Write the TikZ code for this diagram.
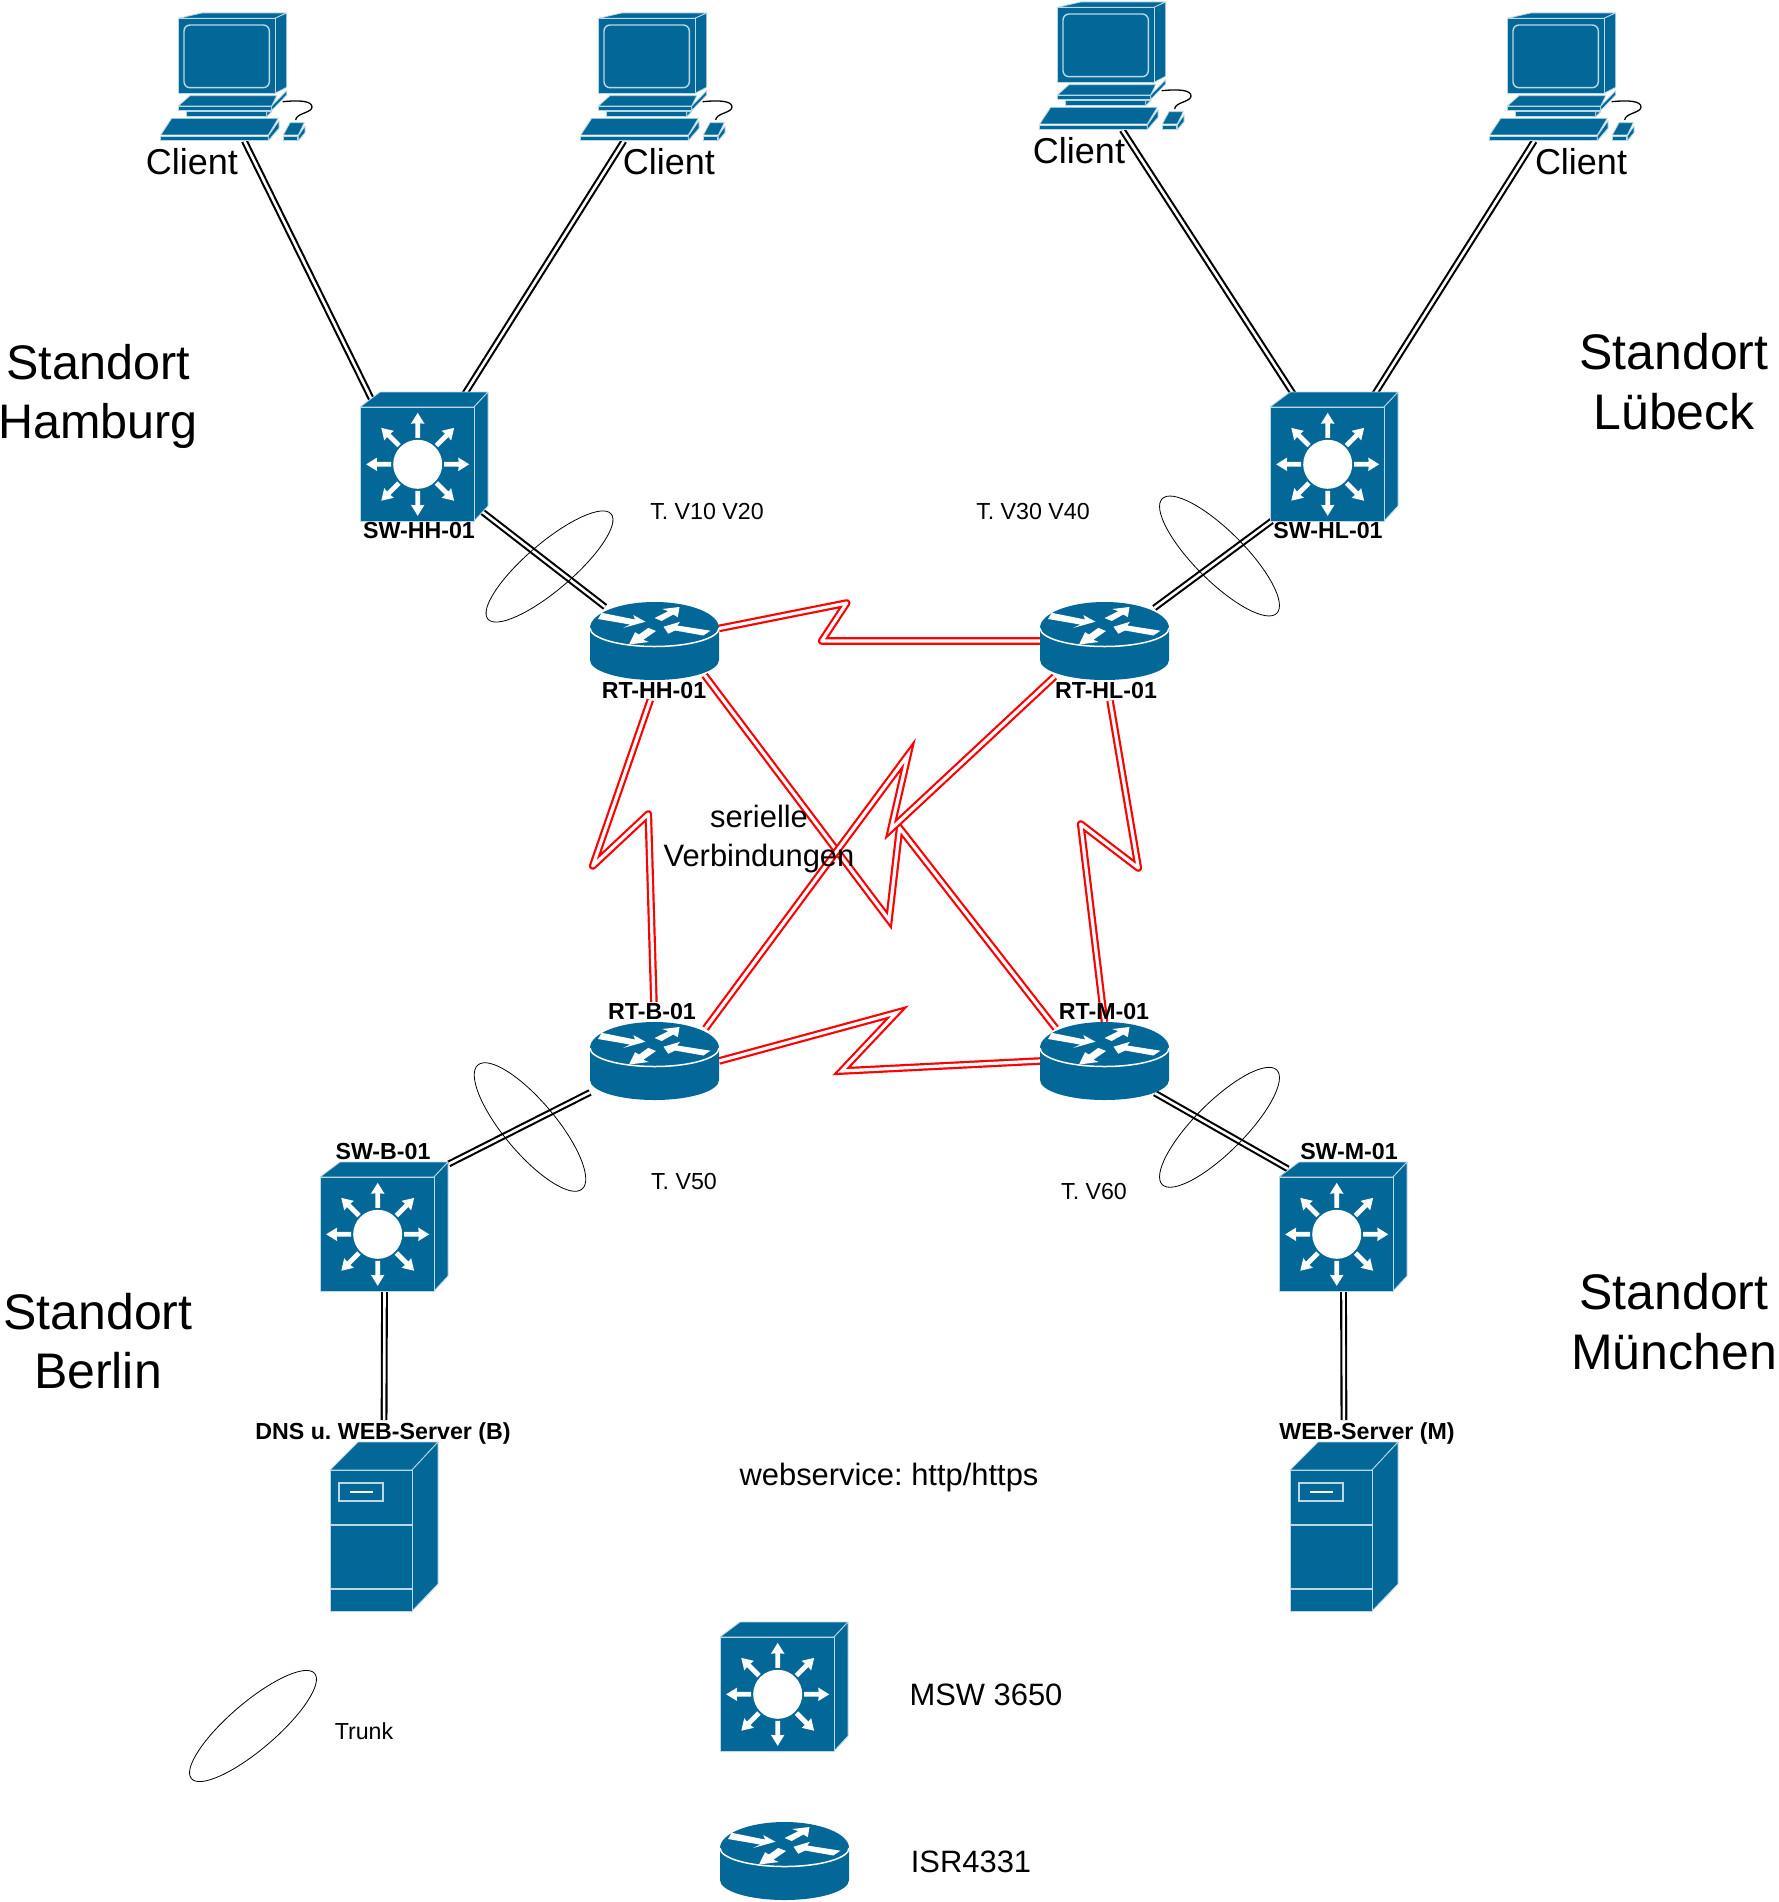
\documentclass[tikz,border=0pt]{standalone}
\usepackage{fontspec}
\setmainfont{Liberation Sans}
\usetikzlibrary{calc}
\AtBeginDocument{\frenchspacing}
\definecolor{cisco}{HTML}{036897}
\definecolor{edgeblue}{HTML}{BBD8E6}
\tikzset{
  iconbox/.style={rectangle,inner sep=0pt,outer sep=0pt},
  body/.style={fill=cisco,draw=edgeblue,line width=0.8pt,line join=round},
  wl/.style={draw=white,line width=1.5pt},
  blackline/.style={draw=black,line width=2.1pt,double=white,double distance=2.6pt},
  redline/.style={draw=red,line width=2.2pt,double=white,double distance=3.2pt,line join=miter,miter limit=30},
  redround/.style={redline,line join=round},
  trunk/.style={draw=black,line width=0.8pt},
  big/.style={font=\fontsize{50}{59.5}\selectfont,align=center,inner sep=0pt},
  bigb/.style={big,font=\fontsize{48.5}{59.5}\selectfont},
  mid/.style={font=\fontsize{30.9}{39}\selectfont,align=center,inner sep=0pt},
  clientlabel/.style={font=\fontsize{36}{42}\selectfont,anchor=base,inner sep=0pt},
  devlabel/.style={font=\fontsize{23.2}{26}\selectfont\bfseries,anchor=base,inner sep=0pt},
  note/.style={font=\fontsize{23.2}{26}\selectfont,anchor=base,inner sep=0pt},
  midb/.style={mid,anchor=base}
}
\newcommand{\swicon}[2]{%
  \begin{scope}[shift={(#1,#2)}]
    \path[body] (0,15) -- (20,0) -- (128,0) -- (114,15) -- cycle;
    \path[body] (114,15) -- (128,0) -- (128,114) -- (114,129) -- cycle;
    \path[body] (0,15) -- (114,15) -- (114,129) -- (0,129) -- cycle;
    \fill[white] (57.7,72.3) circle [radius=24.5pt];
    \foreach \a in {0,45,...,315}{
      \fill[white,shift={(57.7,72.3)},rotate=\a]
        (26.5,-2.4) -- (41,-2.4) -- (40.5,-6.8) -- (51.5,0) -- (40.5,6.8) -- (41,2.4) -- (26.5,2.4) -- cycle;
    }
  \end{scope}}
\newcommand{\rticon}[2]{%
  \begin{scope}[shift={(#1,#2)}]
    \path[body,draw=none] (0,26) -- (0,58) arc[start angle=180,end angle=360,x radius=64.5pt,y radius=20pt]
      -- (129,26) arc[start angle=0,end angle=180,x radius=64.5pt,y radius=26pt] -- cycle;
    \draw[wl] (0,26) arc[start angle=180,end angle=360,x radius=64.5pt,y radius=18.5pt];
    \fill[white] (11.7,10.8) -- (45,17.5) -- (43.3,13) -- (55.5,19.7) -- (33,26) -- (40,22.5) -- (8,17) -- cycle;
    \fill[white] (64.5,16) -- (78.3,9.2) -- (72.2,7) -- (89.5,5) -- (87.8,15.2) -- (83.3,12.5) -- (71.7,19) -- cycle;
    \fill[white] (58.3,25.8) -- (49,32.5) -- (45,30.2) -- (39,42.5) -- (58.8,40) -- (53.3,37.8) -- (66,29) -- cycle;
    \fill[white] (73.5,24.7) -- (90,19.8) -- (87.3,23.5) -- (120.5,28.7) -- (113.3,33.5) -- (85,28.5) -- (78.3,31.8) -- cycle;
  \end{scope}}
\newcommand{\srvicon}[2]{%
  \begin{scope}[shift={(#1,#2)}]
    \path[body] (0,28) -- (28,0) -- (108,0) -- (82,28) -- cycle;
    \path[body] (82,28) -- (108,0) -- (108,142) -- (82,169) -- cycle;
    \path[body] (0,28) -- (82,28) -- (82,169) -- (0,169) -- cycle;
    \draw[edgeblue,line width=1.5pt] (0,83) -- (82,83) (0,147) -- (82,147);
    \draw[edgeblue,line width=1.5pt] (9,41) rectangle (53,59);
    \draw[white,line width=1.5pt] (20,50) -- (43,50);
  \end{scope}}
\newcommand{\pcicon}[2]{%
  \begin{scope}[shift={(#1,#2)}]
    \draw[black,line width=1.3pt] (122.7,88.7) .. controls (140,87) and (152,88) .. (152,94)
      .. controls (152,100) and (136,100) .. (135.7,107);
    \path[body] (18.3,5.3) -- (41.7,0) -- (126.7,0) -- (115,5.3) -- cycle;
    \path[body] (115,5.3) -- (126.7,0) -- (126.7,74.3) -- (115,80.3) -- cycle;
    \path[body] (18.3,5.3) rectangle (115,80.3);
    \draw[edgeblue,line width=1.4pt,rounded corners=6pt] (24,12) rectangle (109.3,74.7);
    \path[body] (18.3,93) -- (30,82.7) -- (116.7,82.7) -- (111.7,93) -- cycle;
    \path[body] (18.3,93) rectangle (111.7,97.5);
    \path[body] (111.7,93) -- (126.7,77.7) -- (126.7,82) -- (111.7,97.5) -- cycle;
    \path[body] (26.7,98.7) rectangle (106.7,103.7);
    \path[body] (106.7,98.7) -- (111.7,98.7) -- (106.7,103.7) -- cycle;
    \path[body] (11.7,105.3) -- (118.3,105.3) -- (108.3,122) -- (0.7,122) -- cycle;
    \path[body] (0,123) rectangle (108.3,127.7);
    \path[body] (108.3,123) -- (119,107.7) -- (119,115.3) -- (108.3,127.7) -- cycle;
    \path[body] (130,109.7) -- (144.3,109.7) -- (138.3,122) -- (123.3,122) -- cycle;
    \path[body] (123.3,123) rectangle (137.7,127.7);
    \path[body] (138.3,123) -- (145,113) -- (145,119.7) -- (138.3,127.7) -- cycle;
  \end{scope}}
\begin{document}
\begin{tikzpicture}[x=1pt,y=-1pt]
\useasboundingbox[fill=white] (0,0) rectangle (1778,1902);

% device anchors
\tikzset{pcbox/.style={iconbox,minimum width=153pt,minimum height=128pt},
  swbox/.style={iconbox,minimum width=128.5pt,minimum height=129pt},
  rtbox/.style={iconbox,minimum width=129pt,minimum height=78pt},
  srvbox/.style={iconbox,minimum width=108pt,minimum height=169pt}}
\node[pcbox] (pc1) at (236.5,77) {};
\node[pcbox] (pc2) at (656.5,77) {};
\node[pcbox] (pc3) at (1115.5,66) {};
\node[pcbox] (pc4) at (1565.5,77) {};
\node[swbox] (sw1) at (424,456.5) {};
\node[swbox] (sw2) at (1334,456.5) {};
\node[swbox] (sw3) at (384.5,1226) {};
\node[swbox] (sw4) at (1343.5,1226) {};
\node[rtbox] (rt1) at (654.5,641) {};
\node[rtbox] (rt2) at (1104.5,641) {};
\node[rtbox] (rt3) at (654.5,1061) {};
\node[rtbox] (rt4) at (1104.5,1061) {};
\node[srvbox] (srv1) at (384,1526.5) {};
\node[srvbox] (srv2) at (1344,1526.5) {};

% Ethernet links
\draw[blackline,shorten >=-8pt] (pc1.-83.7) -- (sw1.131.5);
\draw[blackline,shorten >=-4pt] (pc2.-117.3) -- (sw1.57.6);
\draw[blackline,shorten >=-4pt] (pc3.-84.2) -- (sw2.123);
\draw[blackline,shorten >=-4pt] (pc4.-116.9) -- (sw2.57.6);
\draw[blackline,shorten <=-8pt,shorten >=-8pt] (sw1.-43.6) -- (rt1.145.9);
\draw[blackline,shorten >=-10pt] (sw2.-134.8) -- (rt2.34);
\draw[blackline] (rt3.-154.3) -- (sw3.44.8);
\draw[blackline,shorten <=-14pt,shorten >=-10pt] (rt4.-32.4) -- (sw4.136);
\draw[blackline,shorten >=22pt] (sw3.south) -- (srv1.north);
\draw[blackline,shorten >=22pt] (sw4.south) -- (srv2.north);

% serial links
\draw[redround] (rt1.11.4) -- (846.7,603) -- (821.7,641) -- (rt2.west);
\draw[redround,shorten <=21pt,shorten >=20pt] (rt1.-86) -- (592.7,866) -- (648.3,814) -- (rt3.north);
\draw[redround,shorten <=21pt] (rt2.-87.8) -- (1138.3,868) -- (1080.7,824) -- (rt4.north);
\draw[redline,shorten <=-6pt,shorten >=-8pt] (rt1.-36.1) -- (889,920) -- (899.6,828) -- (rt4.144.6);
\draw[redline,shorten <=-5pt,shorten >=-8pt] (rt2.-144.2) -- (891,829) -- (908,755) -- (rt3.35.4);
\draw[redline] (rt3.east) -- (896.7,1012.7) -- (841.6,1071) -- (rt4.west);

% trunk ellipses
\draw[trunk,rotate around={40.5:(549.5,566.5)}] (549.5,566.5) ellipse [x radius=81pt,y radius=23.5pt];
\draw[trunk,rotate around={-45:(1219.5,556)}] (1219.5,556) ellipse [x radius=81pt,y radius=25pt];
\draw[trunk,rotate around={-50:(530,1127)}] (530,1127) ellipse [x radius=81pt,y radius=26pt];
\draw[trunk,rotate around={45:(1219.5,1127.3)}] (1219.5,1127.3) ellipse [x radius=81pt,y radius=25pt];
\draw[trunk,rotate around={40.5:(253,1726)}] (253,1726) ellipse [x radius=81pt,y radius=23.5pt];

% icons
\pcicon{160}{13}
\pcicon{580}{13}
\pcicon{1039}{2}
\pcicon{1489}{13}
\swicon{360}{392}
\swicon{1270}{392}
\swicon{320}{1162}
\swicon{1279}{1162}
\swicon{720}{1622}
\rticon{590}{602}
\rticon{1040}{602}
\rticon{590}{1022}
\rticon{1040}{1022}
\rticon{720}{1822}
\srvicon{330}{1442}
\srvicon{1290}{1442}

% labels
\node[clientlabel] (c1) at (192,175) {Client};
\node[clientlabel] (c2) at (669,175) {Client};
\node[clientlabel] (c3) at (1079,164) {Client};
\node[clientlabel] (c4) at (1581,175) {Client};
\node[bigb] (hh) at (98,396.5) {Standort\\Hamburg};
\node[big] (hl) at (1674,381.5) {Standort\\Lübeck};
\node[big] (be) at (98,1341) {Standort\\Berlin};
\node[big] (mu) at (1674,1321.5) {Standort\\München};
\node[devlabel] (l1) at (419,538) {SW-HH-01};
\node[devlabel] (l2) at (1328,538) {SW-HL-01};
\node[devlabel] (l3) at (654,698) {RT-HH-01};
\node[devlabel] (l4) at (1106,698) {RT-HL-01};
\node[devlabel] (l5) at (652,1019) {RT-B-01};
\node[devlabel] (l6) at (1104,1019) {RT-M-01};
\node[devlabel] (l7) at (383,1159) {SW-B-01};
\node[devlabel] (l8) at (1349,1159) {SW-M-01};
\node[devlabel] (l9) at (383,1439) {DNS u. WEB-Server (B)};
\node[devlabel] (l10) at (1367,1439) {WEB-Server (M)};
\node[note] (t1) at (707,519) {T. V10 V20};
\node[note] (t2) at (1033,519) {T. V30 V40};
\node[note] (t3) at (684,1189) {T. V50};
\node[note] (t4) at (1094,1199) {T. V60};
\node[note] (t5) at (364,1739) {Trunk};
\node[mid] (ser) at (759,838.7) {serielle\\Verbindungen};
\node[midb] (web) at (889,1485) {webservice: http/https};
\node[midb] (msw) at (986,1705) {MSW 3650};
\node[midb] (isr) at (971,1872) {ISR4331};
\end{tikzpicture}
\end{document}
